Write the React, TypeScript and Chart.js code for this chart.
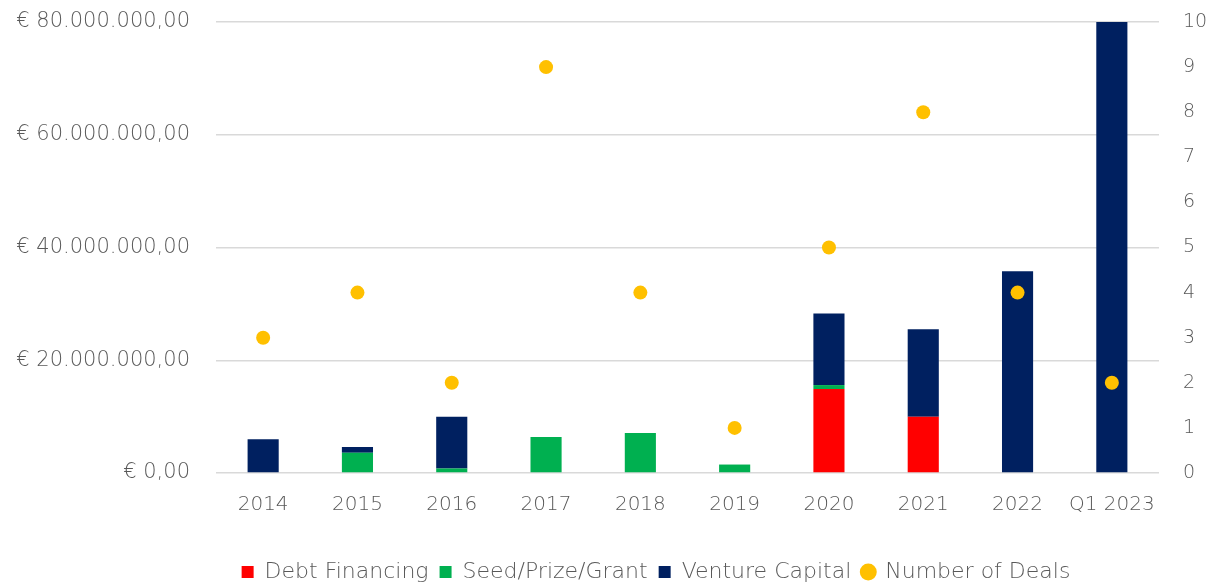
import React, { useEffect, useRef } from "react";
import { Chart, registerables } from "chart.js";

Chart.register(...registerables);

const categories = ["2014", "2015", "2016", "2017", "2018", "2019", "2020", "2021", "2022", "Q1 2023"];
const debtFinancing = [0, 0, 0, 0, 0, 0, 14900000, 10000000, 0, 0];
const seedPrizeGrant = [0, 3600000, 800000, 6400000, 7100000, 1500000, 700000, 0, 0, 0];
const ventureCapital = [6000000, 1000000, 9200000, 0, 0, 0, 12700000, 15500000, 35800000, 80000000];
const numberOfDeals = [3, 4, 2, 9, 4, 1, 5, 8, 4, 2];
const leftTicks = [0, 20000000, 40000000, 60000000, 80000000];

const FONT = "'DejaVu Sans', sans-serif";
const TEXT = "#595959";

function euro(v: number): string {
  const s = Math.round(v).toString().replace(/\B(?=(\d{3})+(?!\d))/g, ".");
  return "€ " + s + ",00";
}

const legendShift = {
  id: "legendShift",
  afterLayout(chart: any) {
    const lg = chart.legend;
    if (lg) {
      lg.left += 49;
      lg.right += 49;
    }
  },
};

export default function App() {
  const ref = useRef<HTMLCanvasElement | null>(null);
  useEffect(() => {
    document.body.style.margin = "0";
    if (!ref.current) return;
    const W = 200 as any;
    const chart = new Chart(ref.current, {
      type: "bar",
      data: {
        labels: categories,
        datasets: [
          { label: "Debt Financing", data: debtFinancing, backgroundColor: "#FF0000", yAxisID: "y", stack: "s", barPercentage: 0.33, categoryPercentage: 1, pointStyle: "rect", order: 1 },
          { label: "Seed/Prize/Grant", data: seedPrizeGrant, backgroundColor: "#00B050", yAxisID: "y", stack: "s", barPercentage: 0.33, categoryPercentage: 1, pointStyle: "rect", order: 1 },
          { label: "Venture Capital", data: ventureCapital, backgroundColor: "#002060", yAxisID: "y", stack: "s", barPercentage: 0.33, categoryPercentage: 1, pointStyle: "rect", order: 1 },
          { type: "line", label: "Number of Deals", data: numberOfDeals, yAxisID: "y1", showLine: false, pointStyle: "circle", pointRadius: 7, pointHoverRadius: 7, backgroundColor: "#FFC000", borderColor: "#FFC000", borderWidth: 0, order: 0 } as any,
        ],
      },
      plugins: [legendShift],
      options: {
        animation: false,
        responsive: false,
        layout: { padding: { top: 22, bottom: -7, left: 0, right: 0 } },
        plugins: {
          tooltip: { enabled: false },
          legend: {
            position: "bottom",
            labels: {
              usePointStyle: true,
              boxWidth: 12,
              boxHeight: 12,
              padding: 11,
              color: TEXT,
              font: { family: FONT, size: 22, weight: W },
              sort: (a: any, b: any) => a.datasetIndex - b.datasetIndex,
            },
          },
        },
        scales: {
          x: {
            stacked: true,
            grid: { display: false, drawTicks: false },
            border: { display: false },
            ticks: { color: TEXT, font: { family: FONT, size: 20, weight: W }, padding: 20 },
            afterFit: (s: any) => { s.height = 77; },
          },
          y: {
            stacked: true,
            position: "left",
            min: 0,
            max: 80000000,
            afterBuildTicks: (s: any) => { s.ticks = leftTicks.map((v) => ({ value: v })); },
            grid: { color: "#D9D9D9", lineWidth: 1.5, drawTicks: true, tickLength: 23, tickColor: "rgba(0,0,0,0)" },
            border: { display: false },
            ticks: { color: TEXT, font: { family: FONT, size: 21, weight: W }, padding: 3, callback: (v: any) => euro(Number(v)) },
            afterFit: (s: any) => { s.width = 216; },
          },
          y1: {
            position: "right",
            min: 0,
            max: 10,
            grid: { display: true, drawOnChartArea: false, color: "rgba(0,0,0,0)", drawTicks: true, tickLength: 21, tickColor: "rgba(0,0,0,0)" },
            border: { display: false },
            ticks: { stepSize: 1, color: TEXT, font: { family: FONT, size: 19, weight: W }, padding: 3 },
            afterFit: (s: any) => { s.width = 55; },
          },
        },
      },
    });
    return () => chart.destroy();
  }, []);
  return (
    <div style={{ width: 1214, height: 586 }}>
      <canvas ref={ref} width={1214} height={586} style={{ display: "block" }} />
    </div>
  );
}
